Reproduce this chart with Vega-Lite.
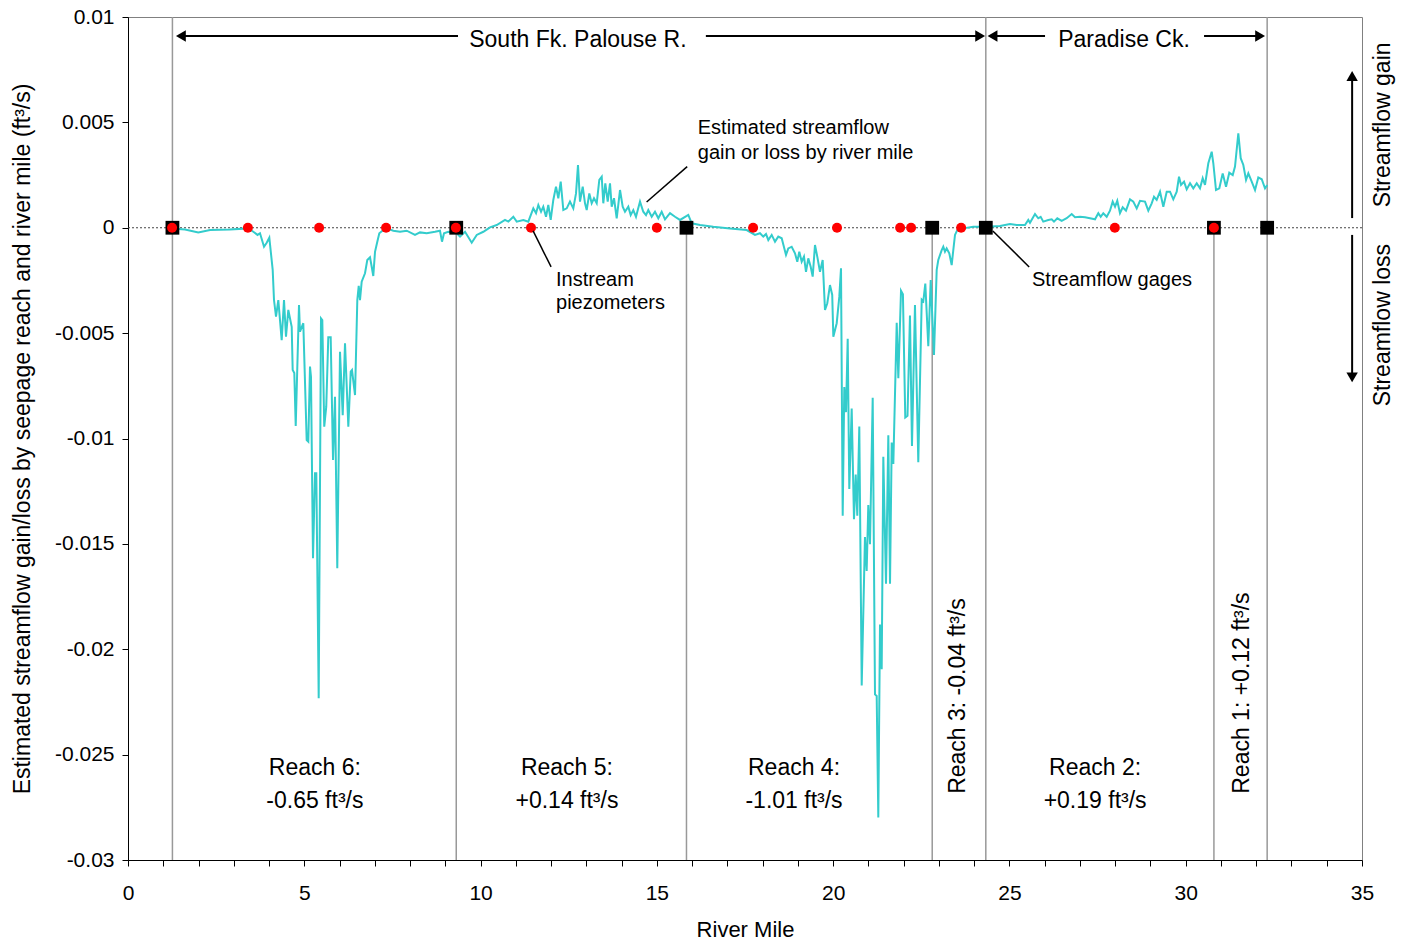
{
  "$schema": "https://vega.github.io/schema/vega-lite/v6.json",
  "autosize": {"type": "none"},
  "padding": {"left": 128, "top": 17, "right": 47, "bottom": 80},
  "width": 1234,
  "height": 843,
  "background": "white",
  "config": {
    "view": {"stroke": "#808080", "strokeWidth": 1},
    "font": "Liberation Sans",
    "text": {"font": "Liberation Sans", "color": "black"}
  },
  "datasets": {
    "flow": [
      {"rm": 1.239, "q": -0.00003}, {"rm": 1.617, "q": -0.00008}, {"rm": 1.994, "q": -0.00022}, {"rm": 2.326, "q": -0.00011},
      {"rm": 2.893, "q": -0.00008}, {"rm": 3.413, "q": -0.00003}, {"rm": 3.555, "q": -0.00019}, {"rm": 3.674, "q": -0.00034},
      {"rm": 3.744, "q": -0.00026}, {"rm": 3.858, "q": -0.0009}, {"rm": 3.934, "q": -0.00071}, {"rm": 4.008, "q": -0.00047},
      {"rm": 4.104, "q": -0.002}, {"rm": 4.141, "q": -0.00343}, {"rm": 4.198, "q": -0.00422}, {"rm": 4.263, "q": -0.00343},
      {"rm": 4.359, "q": -0.00533}, {"rm": 4.425, "q": -0.00343}, {"rm": 4.481, "q": -0.00517}, {"rm": 4.547, "q": -0.0039},
      {"rm": 4.643, "q": -0.0047}, {"rm": 4.671, "q": -0.00675}, {"rm": 4.717, "q": -0.00689}, {"rm": 4.757, "q": -0.00941},
      {"rm": 4.85, "q": -0.00367}, {"rm": 4.878, "q": -0.00493}, {"rm": 4.972, "q": -0.00453}, {"rm": 5.068, "q": -0.01007},
      {"rm": 5.114, "q": -0.01015}, {"rm": 5.162, "q": -0.00659}, {"rm": 5.19, "q": -0.00707}, {"rm": 5.247, "q": -0.01568},
      {"rm": 5.304, "q": -0.01165}, {"rm": 5.341, "q": -0.01165}, {"rm": 5.409, "q": -0.02233}, {"rm": 5.474, "q": -0.0043},
      {"rm": 5.511, "q": -0.00438}, {"rm": 5.566, "q": -0.00944}, {"rm": 5.623, "q": -0.00849}, {"rm": 5.681, "q": -0.0052},
      {"rm": 5.749, "q": -0.0052}, {"rm": 5.815, "q": -0.01102}, {"rm": 5.871, "q": -0.00802}, {"rm": 5.936, "q": -0.01616},
      {"rm": 6.013, "q": -0.00588}, {"rm": 6.09, "q": -0.00889}, {"rm": 6.155, "q": -0.00548}, {"rm": 6.249, "q": -0.00944},
      {"rm": 6.317, "q": -0.00683}, {"rm": 6.353, "q": -0.00675}, {"rm": 6.439, "q": -0.00794}, {"rm": 6.504, "q": -0.00343},
      {"rm": 6.544, "q": -0.00276}, {"rm": 6.58, "q": -0.00343}, {"rm": 6.628, "q": -0.00256}, {"rm": 6.722, "q": -0.00216},
      {"rm": 6.787, "q": -0.00153}, {"rm": 6.864, "q": -0.0014}, {"rm": 6.912, "q": -0.00185}, {"rm": 6.957, "q": -0.00229},
      {"rm": 7.006, "q": -0.00114}, {"rm": 7.071, "q": -0.00066}, {"rm": 7.128, "q": -0.00026}, {"rm": 7.241, "q": -0.00011},
      {"rm": 7.338, "q": -0.00003}, {"rm": 7.525, "q": -0.00014}, {"rm": 7.715, "q": -0.00019}, {"rm": 7.905, "q": -0.00014},
      {"rm": 8.14, "q": -0.00034}, {"rm": 8.282, "q": -0.00022}, {"rm": 8.472, "q": -0.00026}, {"rm": 8.707, "q": -0.00019},
      {"rm": 8.849, "q": -0.00014}, {"rm": 8.906, "q": -0.00066}, {"rm": 8.963, "q": -0.00026}, {"rm": 9.085, "q": -0.00019},
      {"rm": 9.323, "q": -0.00026}, {"rm": 9.417, "q": -0.00042}, {"rm": 9.559, "q": -0.00019}, {"rm": 9.749, "q": -0.00071},
      {"rm": 9.891, "q": -0.00034}, {"rm": 10.078, "q": -0.00019}, {"rm": 10.268, "q": 0.00002}, {"rm": 10.458, "q": 0.00013},
      {"rm": 10.693, "q": 0.00037}, {"rm": 10.787, "q": 0.00029}, {"rm": 10.929, "q": 0.00052}, {"rm": 11.025, "q": 0.00029},
      {"rm": 11.212, "q": 0.00037}, {"rm": 11.354, "q": 0.00029}, {"rm": 11.496, "q": 0.00092}, {"rm": 11.573, "q": 0.00069},
      {"rm": 11.638, "q": 0.00108}, {"rm": 11.715, "q": 0.00076}, {"rm": 11.779, "q": 0.001}, {"rm": 11.856, "q": 0.00052},
      {"rm": 11.921, "q": 0.00108}, {"rm": 11.989, "q": 0.00037}, {"rm": 12.063, "q": 0.00132}, {"rm": 12.139, "q": 0.00195},
      {"rm": 12.205, "q": 0.0014}, {"rm": 12.273, "q": 0.00219}, {"rm": 12.347, "q": 0.00084}, {"rm": 12.443, "q": 0.00092},
      {"rm": 12.536, "q": 0.00124}, {"rm": 12.63, "q": 0.00092}, {"rm": 12.707, "q": 0.00163}, {"rm": 12.763, "q": 0.00298},
      {"rm": 12.82, "q": 0.00124}, {"rm": 12.897, "q": 0.00195}, {"rm": 12.962, "q": 0.00116}, {"rm": 13.01, "q": 0.00084},
      {"rm": 13.084, "q": 0.00163}, {"rm": 13.152, "q": 0.00116}, {"rm": 13.217, "q": 0.0014}, {"rm": 13.294, "q": 0.00116},
      {"rm": 13.368, "q": 0.00227}, {"rm": 13.436, "q": 0.00242}, {"rm": 13.481, "q": 0.00116}, {"rm": 13.538, "q": 0.00211},
      {"rm": 13.606, "q": 0.00124}, {"rm": 13.671, "q": 0.00211}, {"rm": 13.719, "q": 0.001}, {"rm": 13.785, "q": 0.0014},
      {"rm": 13.861, "q": 0.00045}, {"rm": 13.955, "q": 0.00179}, {"rm": 14.031, "q": 0.001}, {"rm": 14.096, "q": 0.00076},
      {"rm": 14.19, "q": 0.001}, {"rm": 14.258, "q": 0.0006}, {"rm": 14.332, "q": 0.00084}, {"rm": 14.408, "q": 0.00052},
      {"rm": 14.522, "q": 0.00124}, {"rm": 14.615, "q": 0.00076}, {"rm": 14.692, "q": 0.0006}, {"rm": 14.757, "q": 0.00084},
      {"rm": 14.854, "q": 0.00052}, {"rm": 14.947, "q": 0.00076}, {"rm": 15.041, "q": 0.00045}, {"rm": 15.137, "q": 0.00076},
      {"rm": 15.231, "q": 0.0004}, {"rm": 15.373, "q": 0.00069}, {"rm": 15.515, "q": 0.00052}, {"rm": 15.657, "q": 0.00037},
      {"rm": 15.847, "q": 0.00056}, {"rm": 15.892, "q": 0.00061}, {"rm": 15.989, "q": 0.00021}, {"rm": 16.224, "q": 0.00013},
      {"rm": 16.601, "q": 0.00005}, {"rm": 17.074, "q": -0.00003}, {"rm": 17.548, "q": -0.00011}, {"rm": 17.783, "q": -0.00034},
      {"rm": 17.925, "q": -0.00026}, {"rm": 18.019, "q": -0.00042}, {"rm": 18.096, "q": -0.0003}, {"rm": 18.161, "q": -0.00058},
      {"rm": 18.257, "q": -0.00034}, {"rm": 18.351, "q": -0.00066}, {"rm": 18.444, "q": -0.00042}, {"rm": 18.541, "q": -0.0005},
      {"rm": 18.663, "q": -0.00129}, {"rm": 18.728, "q": -0.00098}, {"rm": 18.824, "q": -0.0009}, {"rm": 18.918, "q": -0.00121},
      {"rm": 18.983, "q": -0.00161}, {"rm": 19.04, "q": -0.00114}, {"rm": 19.108, "q": -0.00161}, {"rm": 19.173, "q": -0.00137},
      {"rm": 19.23, "q": -0.00209}, {"rm": 19.295, "q": -0.00145}, {"rm": 19.363, "q": -0.00185}, {"rm": 19.42, "q": -0.00232},
      {"rm": 19.485, "q": -0.00082}, {"rm": 19.55, "q": -0.00137}, {"rm": 19.627, "q": -0.00209}, {"rm": 19.703, "q": -0.00153},
      {"rm": 19.769, "q": -0.0039}, {"rm": 19.834, "q": -0.00358}, {"rm": 19.91, "q": -0.00272}, {"rm": 19.974, "q": -0.00319},
      {"rm": 20.005, "q": -0.00517}, {"rm": 20.101, "q": -0.00453}, {"rm": 20.175, "q": -0.00327}, {"rm": 20.223, "q": -0.00192},
      {"rm": 20.271, "q": -0.01366}, {"rm": 20.316, "q": -0.00756}, {"rm": 20.365, "q": -0.00875}, {"rm": 20.413, "q": -0.00527},
      {"rm": 20.458, "q": -0.01239}, {"rm": 20.526, "q": -0.00858}, {"rm": 20.591, "q": -0.01383}, {"rm": 20.64, "q": -0.01171},
      {"rm": 20.685, "q": -0.01366}, {"rm": 20.742, "q": -0.00943}, {"rm": 20.81, "q": -0.02172}, {"rm": 20.903, "q": -0.01468},
      {"rm": 20.951, "q": -0.01629}, {"rm": 20.997, "q": -0.01316}, {"rm": 21.045, "q": -0.01502}, {"rm": 21.122, "q": -0.00807},
      {"rm": 21.187, "q": -0.02214}, {"rm": 21.235, "q": -0.02222}, {"rm": 21.281, "q": -0.02798}, {"rm": 21.329, "q": -0.01883},
      {"rm": 21.377, "q": -0.02095}, {"rm": 21.423, "q": -0.01087}, {"rm": 21.499, "q": -0.01689}, {"rm": 21.565, "q": -0.00985},
      {"rm": 21.613, "q": -0.01689}, {"rm": 21.661, "q": -0.01019}, {"rm": 21.707, "q": -0.01121}, {"rm": 21.803, "q": -0.00451},
      {"rm": 21.849, "q": -0.00714}, {"rm": 21.925, "q": -0.00299}, {"rm": 21.979, "q": -0.00316}, {"rm": 22.046, "q": -0.009},
      {"rm": 22.109, "q": -0.00892}, {"rm": 22.179, "q": -0.00417}, {"rm": 22.236, "q": -0.01036}, {"rm": 22.321, "q": -0.00367},
      {"rm": 22.415, "q": -0.01112}, {"rm": 22.512, "q": -0.00341}, {"rm": 22.557, "q": -0.00349}, {"rm": 22.614, "q": -0.00265},
      {"rm": 22.699, "q": -0.00562}, {"rm": 22.767, "q": -0.00248}, {"rm": 22.86, "q": -0.00604}, {"rm": 22.937, "q": -0.002},
      {"rm": 22.982, "q": -0.00153}, {"rm": 23.079, "q": -0.00106}, {"rm": 23.124, "q": -0.0009}, {"rm": 23.172, "q": -0.00114},
      {"rm": 23.22, "q": -0.00098}, {"rm": 23.294, "q": -0.00121}, {"rm": 23.362, "q": -0.00177}, {"rm": 23.408, "q": -0.00106},
      {"rm": 23.456, "q": -0.00034}, {"rm": 23.521, "q": -0.00011}, {"rm": 23.691, "q": -0.00003}, {"rm": 23.975, "q": 0.00005},
      {"rm": 24.258, "q": 0.00005}, {"rm": 24.355, "q": 0.00005}, {"rm": 24.732, "q": 0.00008}, {"rm": 25.016, "q": 0.00018},
      {"rm": 25.206, "q": 0.00013}, {"rm": 25.441, "q": 0.00013}, {"rm": 25.535, "q": 0.00037}, {"rm": 25.583, "q": 0.00024},
      {"rm": 25.725, "q": 0.00065}, {"rm": 25.818, "q": 0.00045}, {"rm": 25.886, "q": 0.00052}, {"rm": 25.96, "q": 0.00029},
      {"rm": 26.102, "q": 0.00037}, {"rm": 26.199, "q": 0.0004}, {"rm": 26.264, "q": 0.00029}, {"rm": 26.358, "q": 0.00045},
      {"rm": 26.482, "q": 0.00033}, {"rm": 26.624, "q": 0.00045}, {"rm": 26.766, "q": 0.00065}, {"rm": 26.86, "q": 0.0005},
      {"rm": 27.002, "q": 0.00052}, {"rm": 27.144, "q": 0.0005}, {"rm": 27.285, "q": 0.00045}, {"rm": 27.427, "q": 0.0004},
      {"rm": 27.521, "q": 0.00069}, {"rm": 27.589, "q": 0.00052}, {"rm": 27.662, "q": 0.00069}, {"rm": 27.759, "q": 0.00052},
      {"rm": 27.852, "q": 0.00081}, {"rm": 27.929, "q": 0.00124}, {"rm": 27.995, "q": 0.001}, {"rm": 28.059, "q": 0.00128},
      {"rm": 28.136, "q": 0.00069}, {"rm": 28.213, "q": 0.00097}, {"rm": 28.306, "q": 0.00081}, {"rm": 28.42, "q": 0.00135},
      {"rm": 28.513, "q": 0.00124}, {"rm": 28.61, "q": 0.00092}, {"rm": 28.703, "q": 0.00128}, {"rm": 28.845, "q": 0.00124},
      {"rm": 28.939, "q": 0.00081}, {"rm": 29.035, "q": 0.00116}, {"rm": 29.101, "q": 0.00147}, {"rm": 29.177, "q": 0.00132},
      {"rm": 29.271, "q": 0.00171}, {"rm": 29.365, "q": 0.001}, {"rm": 29.461, "q": 0.00171}, {"rm": 29.555, "q": 0.00171},
      {"rm": 29.648, "q": 0.00135}, {"rm": 29.745, "q": 0.00171}, {"rm": 29.81, "q": 0.00242}, {"rm": 29.867, "q": 0.00203},
      {"rm": 29.952, "q": 0.00219}, {"rm": 30.028, "q": 0.00182}, {"rm": 30.122, "q": 0.00211}, {"rm": 30.215, "q": 0.00187},
      {"rm": 30.312, "q": 0.00211}, {"rm": 30.405, "q": 0.00187}, {"rm": 30.482, "q": 0.00235}, {"rm": 30.547, "q": 0.00203},
      {"rm": 30.641, "q": 0.00306}, {"rm": 30.737, "q": 0.00361}, {"rm": 30.783, "q": 0.00306}, {"rm": 30.859, "q": 0.00179},
      {"rm": 30.953, "q": 0.00187}, {"rm": 31.049, "q": 0.00258}, {"rm": 31.143, "q": 0.00195}, {"rm": 31.236, "q": 0.00261},
      {"rm": 31.333, "q": 0.0025}, {"rm": 31.398, "q": 0.0029}, {"rm": 31.492, "q": 0.00448}, {"rm": 31.56, "q": 0.0033},
      {"rm": 31.634, "q": 0.00298}, {"rm": 31.711, "q": 0.00227}, {"rm": 31.776, "q": 0.00258}, {"rm": 31.872, "q": 0.00219},
      {"rm": 31.966, "q": 0.00179}, {"rm": 32.059, "q": 0.00239}, {"rm": 32.156, "q": 0.0023}, {"rm": 32.249, "q": 0.00187},
      {"rm": 32.315, "q": 0.00203}
    ],
    "boundaries": [
      {"rm": 1.26, "top": 0.01, "bottom": -0.03},
      {"rm": 9.31, "top": 0, "bottom": -0.03},
      {"rm": 15.84, "top": 0, "bottom": -0.03},
      {"rm": 22.81, "top": 0, "bottom": -0.03},
      {"rm": 24.33, "top": 0.01, "bottom": -0.03},
      {"rm": 30.8, "top": 0, "bottom": -0.03},
      {"rm": 32.31, "top": 0.01, "bottom": -0.03}
    ],
    "gages": [
      {"rm": 1.26, "q": 0}, {"rm": 9.31, "q": 0}, {"rm": 15.84, "q": 0}, {"rm": 22.81, "q": 0},
      {"rm": 24.33, "q": 0}, {"rm": 30.8, "q": 0}, {"rm": 32.31, "q": 0}
    ],
    "piezometers": [
      {"rm": 1.25, "q": 0}, {"rm": 3.4, "q": 0}, {"rm": 5.42, "q": 0}, {"rm": 7.32, "q": 0},
      {"rm": 9.3, "q": 0}, {"rm": 11.43, "q": 0}, {"rm": 15.0, "q": 0}, {"rm": 17.73, "q": 0},
      {"rm": 20.11, "q": 0}, {"rm": 21.9, "q": 0}, {"rm": 22.21, "q": 0}, {"rm": 23.63, "q": 0},
      {"rm": 27.99, "q": 0}, {"rm": 30.8, "q": 0}
    ],
    "arrows": [
      {"x1": 1.5, "x2": 9.36, "y1": 0.0091, "y2": 0.0091},
      {"x1": 16.39, "x2": 24.17, "y1": 0.0091, "y2": 0.0091},
      {"x1": 24.52, "x2": 26.01, "y1": 0.0091, "y2": 0.0091},
      {"x1": 30.52, "x2": 32.11, "y1": 0.0091, "y2": 0.0091},
      {"x1": 34.72, "x2": 34.72, "y1": 0.00046, "y2": 0.0072},
      {"x1": 34.72, "x2": 34.72, "y1": -0.00034, "y2": -0.0071}
    ],
    "heads": [
      {"x": 1.5, "y": 0.0091, "dir": "left"},
      {"x": 24.17, "y": 0.0091, "dir": "right"},
      {"x": 24.52, "y": 0.0091, "dir": "left"},
      {"x": 32.11, "y": 0.0091, "dir": "right"},
      {"x": 34.72, "y": 0.0072, "dir": "up"},
      {"x": 34.72, "y": -0.0071, "dir": "down"}
    ],
    "leaders": [
      {"x1": 15.86, "x2": 14.71, "y1": 0.0029, "y2": 0.00122},
      {"x1": 11.49, "x2": 12.0, "y1": -0.00015, "y2": -0.00186},
      {"x1": 24.53, "x2": 25.56, "y1": -0.00015, "y2": -0.00186}
    ],
    "bigLabels": [
      {"x": 12.76, "y": 0.0089, "label": "South Fk. Palouse R."},
      {"x": 28.25, "y": 0.0089, "label": "Paradise Ck."},
      {"x": 5.3, "y": -0.02563, "label": "Reach 6:"},
      {"x": 5.3, "y": -0.02719, "label": "-0.65 ft³/s"},
      {"x": 12.45, "y": -0.02563, "label": "Reach 5:"},
      {"x": 12.45, "y": -0.02719, "label": "+0.14 ft³/s"},
      {"x": 18.89, "y": -0.02563, "label": "Reach 4:"},
      {"x": 18.89, "y": -0.02719, "label": "-1.01 ft³/s"},
      {"x": 27.43, "y": -0.02563, "label": "Reach 2:"},
      {"x": 27.43, "y": -0.02719, "label": "+0.19 ft³/s"}
    ],
    "rotLabels": [
      {"x": 23.54, "y": -0.02222, "label": "Reach 3: -0.04 ft³/s"},
      {"x": 31.6, "y": -0.02208, "label": "Reach 1: +0.12 ft³/s"},
      {"x": 35.6, "y": 0.00488, "label": "Streamflow gain"},
      {"x": 35.6, "y": -0.00462, "label": "Streamflow loss"}
    ],
    "notes": [
      {"x": 16.16, "y": 0.00473, "label": "Estimated streamflow"},
      {"x": 16.16, "y": 0.00354, "label": "gain or loss by river mile"},
      {"x": 12.14, "y": -0.00248, "label": "Instream"},
      {"x": 12.14, "y": -0.00357, "label": "piezometers"},
      {"x": 25.64, "y": -0.00248, "label": "Streamflow gages"}
    ]
  },
  "layer": [
    {
      "data": {"name": "boundaries"},
      "mark": {"type": "rule", "color": "#999999", "strokeWidth": 1.5},
      "encoding": {
        "x": {
          "field": "rm", "type": "quantitative",
          "scale": {"domain": [0, 35], "nice": false, "zero": false},
          "axis": {
            "title": "River Mile",
            "values": [0,1,2,3,4,5,6,7,8,9,10,11,12,13,14,15,16,17,18,19,20,21,22,23,24,25,26,27,28,29,30,31,32,33,34,35],
            "tickCount": 100,
            "labelExpr": "datum.value % 5 === 0 ? '' + datum.value : ''",
            "labelOverlap": false,
            "labelFlush": false,
            "grid": false,
            "tickSize": 6,
            "tickColor": "black",
            "domainColor": "black",
            "labelColor": "black",
            "labelFont": "Liberation Sans",
            "labelFontSize": 21,
            "labelBaseline": "middle",
            "labelPadding": 27,
            "titleFont": "Liberation Sans",
            "titleFontSize": 22,
            "titleFontWeight": "normal",
            "titleColor": "black",
            "titleBaseline": "middle",
            "titleY": 69
          }
        },
        "y": {
          "field": "bottom", "type": "quantitative",
          "scale": {"domain": [-0.03, 0.01], "nice": false, "zero": false},
          "axis": {
            "title": "Estimated streamflow gain/loss by seepage reach and river mile (ft³/s)",
            "values": [-0.03, -0.025, -0.02, -0.015, -0.01, -0.005, 0, 0.005, 0.01],
            "tickCount": 20,
            "labelExpr": "'' + datum.value",
            "grid": false,
            "tickSize": 6,
            "tickColor": "black",
            "domainColor": "black",
            "labelColor": "black",
            "labelFont": "Liberation Sans",
            "labelFontSize": 21,
            "labelPadding": 8,
            "titleFont": "Liberation Sans",
            "titleFontSize": 23,
            "titleFontWeight": "normal",
            "titleColor": "black",
            "titleX": -106,
            "titleY": 421.5,
            "titleAngle": 270,
            "titleAlign": "center",
            "titleBaseline": "middle"
          }
        },
        "y2": {"field": "top"}
      }
    },
    {
      "data": {"values": [{"q": 0}]},
      "mark": {"type": "rule", "color": "#444444", "strokeWidth": 1, "strokeDash": [2, 2]},
      "encoding": {"y": {"field": "q", "type": "quantitative"}}
    },
    {
      "data": {"name": "flow"},
      "mark": {"type": "line", "color": "#33CCCC", "strokeWidth": 2},
      "encoding": {
        "x": {"field": "rm", "type": "quantitative"},
        "y": {"field": "q", "type": "quantitative"}
      }
    },
    {
      "data": {"name": "gages"},
      "mark": {"type": "point", "shape": "square", "filled": true, "color": "black", "size": 190, "opacity": 1},
      "encoding": {
        "x": {"field": "rm", "type": "quantitative"},
        "y": {"field": "q", "type": "quantitative"}
      }
    },
    {
      "data": {"name": "piezometers"},
      "mark": {"type": "point", "shape": "circle", "filled": true, "color": "#FF0000", "size": 100, "opacity": 1},
      "encoding": {
        "x": {"field": "rm", "type": "quantitative"},
        "y": {"field": "q", "type": "quantitative"}
      }
    },
    {
      "data": {"name": "arrows"},
      "mark": {"type": "rule", "color": "black", "strokeWidth": 2},
      "encoding": {
        "x": {"field": "x1", "type": "quantitative"},
        "x2": {"field": "x2"},
        "y": {"field": "y1", "type": "quantitative"},
        "y2": {"field": "y2"}
      }
    },
    {
      "data": {"name": "leaders"},
      "mark": {"type": "rule", "color": "black", "strokeWidth": 1.5},
      "encoding": {
        "x": {"field": "x1", "type": "quantitative"},
        "x2": {"field": "x2"},
        "y": {"field": "y1", "type": "quantitative"},
        "y2": {"field": "y2"}
      }
    },
    {
      "data": {"name": "heads"},
      "mark": {"type": "point", "filled": true, "color": "black", "size": 130, "opacity": 1},
      "encoding": {
        "x": {"field": "x", "type": "quantitative"},
        "y": {"field": "y", "type": "quantitative"},
        "shape": {
          "field": "dir", "type": "nominal",
          "scale": {"domain": ["left", "right", "up", "down"], "range": ["triangle-left", "triangle-right", "triangle-up", "triangle-down"]},
          "legend": null
        }
      }
    },
    {
      "data": {"name": "bigLabels"},
      "mark": {"type": "text", "fontSize": 23, "align": "center", "baseline": "middle", "font": "Liberation Sans", "color": "black"},
      "encoding": {
        "x": {"field": "x", "type": "quantitative"},
        "y": {"field": "y", "type": "quantitative"},
        "text": {"field": "label"}
      }
    },
    {
      "data": {"name": "rotLabels"},
      "mark": {"type": "text", "fontSize": 23, "align": "center", "baseline": "middle", "angle": 270, "font": "Liberation Sans", "color": "black"},
      "encoding": {
        "x": {"field": "x", "type": "quantitative"},
        "y": {"field": "y", "type": "quantitative"},
        "text": {"field": "label"}
      }
    },
    {
      "data": {"name": "notes"},
      "mark": {"type": "text", "fontSize": 20, "align": "left", "baseline": "middle", "font": "Liberation Sans", "color": "black"},
      "encoding": {
        "x": {"field": "x", "type": "quantitative"},
        "y": {"field": "y", "type": "quantitative"},
        "text": {"field": "label"}
      }
    }
  ]
}
